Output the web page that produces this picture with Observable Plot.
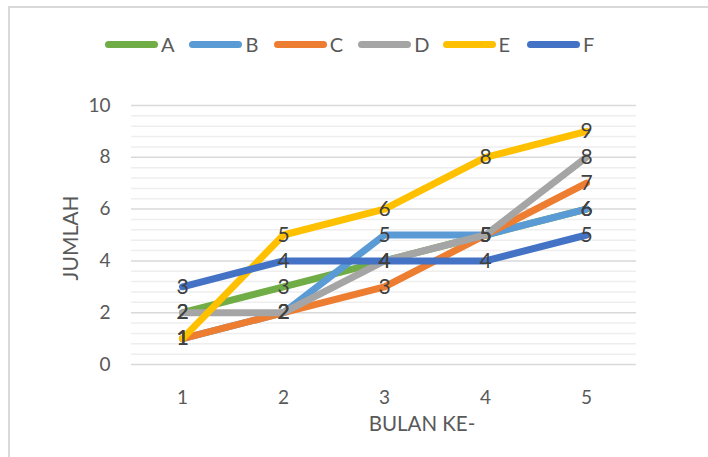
<!DOCTYPE html>
<html>
<head>
<meta charset="utf-8">
<script src="https://cdn.jsdelivr.net/npm/d3@7"></script>
<script src="https://cdn.jsdelivr.net/npm/@observablehq/plot@0.6"></script>
<style>
  html, body { margin: 0; padding: 0; background: #fff; }
  #wrap { position: relative; width: 708px; height: 457px; overflow: hidden; font-family: Lato, "Open Sans", sans-serif; color: #595959; }
  #frame { position: absolute; left: 8px; top: 6px; width: 720px; height: 470px; border-left: 2px solid #d9d9d9; border-top: 2px solid #d9d9d9; }
  #legend { position: absolute; left: 0; top: 0; width: 708px; height: 70px; }
  .item { position: absolute; top: 33px; height: 22px; display: flex; align-items: center; font-size: 20px; }
  .sw { width: 53px; height: 7px; border-radius: 4px; margin-right: 3px; }
  #chart { position: absolute; left: 0; top: 70px; }
  #ytitle { position: absolute; left: 69px; top: 238px; transform: translate(-50%, -50%) rotate(-90deg); font-size: 21px; white-space: nowrap; }
  #xtitle { position: absolute; left: 422px; top: 423px; transform: translate(-50%, -50%); font-size: 20.5px; white-space: nowrap; }
</style>
</head>
<body>
<div id="wrap">
  <div id="frame"></div>
  <div id="legend"></div>
  <div id="chart"></div>
  <div id="ytitle">JUMLAH</div>
  <div id="xtitle">BULAN KE-</div>
</div>
<script>
const months = [1, 2, 3, 4, 5];
const seriesNames = ["A", "B", "C", "D", "E", "F"];
const seriesColors = ["#70AD47", "#5B9BD5", "#ED7D31", "#A5A5A5", "#FFC000", "#4472C4"];
const valuesA = [2, 3, 4, 5, 6];
const valuesB = [1, 2, 5, 5, 6];
const valuesC = [1, 2, 3, 5, 7];
const valuesD = [2, 2, 4, 5, 8];
const valuesE = [1, 5, 6, 8, 9];
const valuesF = [3, 4, 4, 4, 5];
const yTicks = [0, 2, 4, 6, 8, 10];

const allValues = [valuesA, valuesB, valuesC, valuesD, valuesE, valuesF];
const data = [];
seriesNames.forEach((s, i) => {
  months.forEach((m, j) => data.push({series: s, month: m, value: allValues[i][j]}));
});

const minorTicks = d3.range(0, 26).filter(i => i % 5 !== 0).map(i => i * 0.4);

// legend
const legend = document.getElementById("legend");
seriesNames.forEach((s, i) => {
  const it = document.createElement("div");
  it.className = "item";
  it.style.left = (105 + i * 84.4) + "px";
  const sw = document.createElement("div");
  sw.className = "sw";
  sw.style.background = seriesColors[i];
  const lb = document.createElement("span");
  lb.textContent = s;
  it.appendChild(sw);
  it.appendChild(lb);
  legend.appendChild(it);
});

const chart = Plot.plot({
  width: 708,
  height: 387,
  marginTop: 35,
  marginBottom: 93,
  marginLeft: 131,
  marginRight: 72,
  style: {fontFamily: "Lato, 'Open Sans', sans-serif", fontSize: "19px", color: "#595959", background: "transparent", overflow: "visible"},
  x: {type: "point", domain: months, padding: 0.5},
  y: {domain: [0, 10]},
  color: {domain: seriesNames, range: seriesColors},
  marks: [
    Plot.ruleY(minorTicks, {stroke: "#eeeeee", strokeWidth: 1.5}),
    Plot.ruleY(yTicks, {stroke: "#d9d9d9", strokeWidth: 1.5}),
    Plot.axisY({ticks: yTicks, tickSize: 0, tickPadding: 21, label: null, fontSize: 19}),
    Plot.axisX({tickSize: 0, tickPadding: 26, label: null, fontSize: 19}),
    Plot.line(data, {x: "month", y: "value", z: "series", stroke: "series", strokeWidth: 7, strokeLinejoin: "round", strokeLinecap: "round"}),
    Plot.text(data, {x: "month", y: "value", text: d => String(d.value), fill: "#404040", fontSize: 21})
  ]
});
document.getElementById("chart").appendChild(chart);
</script>
</body>
</html>
